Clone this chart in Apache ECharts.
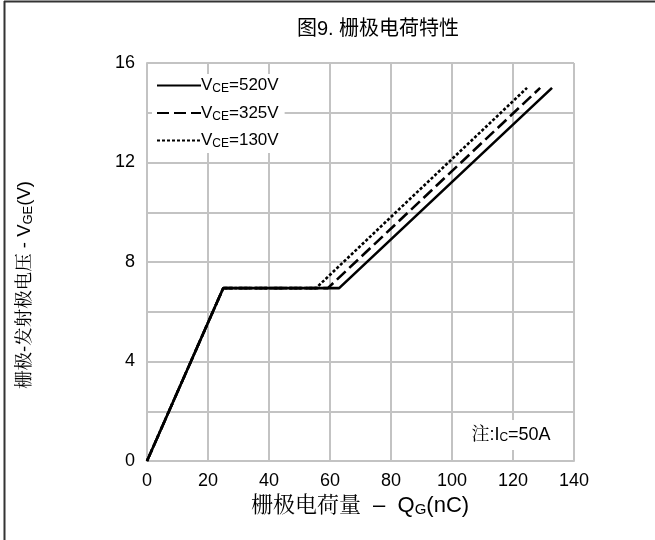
<!DOCTYPE html>
<html>
<head>
<meta charset="utf-8">
<script src="https://cdn.jsdelivr.net/npm/echarts@6/dist/echarts.min.js"></script>
<style>html,body{margin:0;padding:0;background:#fff;}#c{width:655px;height:540px;}</style>
</head>
<body>
<div id="c"></div>
<script>
// Data
const seriesNames = ['520V', '325V', '130V'];
const qg520 = [0, 25, 63, 132.8];
const vge520 = [0, 6.95, 6.95, 15];
const qg325 = [0, 25, 59.3, 128.9];
const vge325 = [0, 6.95, 6.95, 15];
const qg130 = [0, 25, 55.4, 124.6];
const vge130 = [0, 6.95, 6.95, 15];
const xTicks = [0, 20, 40, 60, 80, 100, 120, 140];
const yTicks = [0, 4, 8, 12, 16];

const pairs = (xs, ys) => xs.map((x, i) => [x, ys[i]]);
const font = '"Liberation Sans", Arial, "Noto Sans CJK SC", sans-serif';
const serif = '"Liberation Sans", Arial, "Noto Serif CJK SC", "Noto Sans CJK SC", sans-serif';
const sans = '"Liberation Sans", Arial, "Noto Sans CJK SC", sans-serif';

const chart = echarts.init(document.getElementById('c'));
const mk = (name, xs, ys, type) => ({
  name: name,
  type: 'line',
  data: pairs(xs, ys),
  symbol: 'none',
  lineStyle: { color: '#000', width: 2.6, type: type },
  itemStyle: { color: '#000' },
  z: 3
});
chart.setOption({
  backgroundColor: '#fff',
  animation: false,
  title: {
    text: '图9. 栅极电荷特性',
    left: 373, top: 14, textAlign: 'center',
    textStyle: { fontFamily: sans, fontSize: 20, fontWeight: 'normal', color: '#000' }
  },
  grid: { left: 147, right: 81, top: 63, bottom: 79 },
  legend: {
    orient: 'vertical',
    left: 152, top: 74,
    itemWidth: 44, itemHeight: 14, itemGap: 9.5,
    backgroundColor: '#fff',
    padding: [3, 6, 3, 4],
    data: seriesNames,
    itemStyle: { opacity: 0 },
    formatter: n => '{v|V}{s|CE}{v|=' + n + '}',
    textStyle: {
      color: '#000', padding: [0, 0, 0, -5],
      rich: {
        v: { fontFamily: font, fontSize: 17, color: '#000' },
        s: { fontFamily: font, fontSize: 12, color: '#000', verticalAlign: 'bottom', padding: [7, 0, 0, 0] }
      }
    }
  },
  xAxis: {
    type: 'value', min: 0, max: 140, interval: 20,
    axisLine: { show: true, lineStyle: { color: '#c3c3c3', width: 2 } },
    axisTick: { show: false },
    splitLine: { show: true, lineStyle: { color: '#c3c3c3', width: 2 } },
    axisLabel: { color: '#000', fontFamily: font, fontSize: 18, margin: 11 }
  },
  yAxis: {
    type: 'value', min: 0, max: 16, interval: 2,
    axisLine: { show: true, lineStyle: { color: '#c3c3c3', width: 2 } },
    axisTick: { show: false },
    splitLine: { show: true, lineStyle: { color: '#c3c3c3', width: 2 } },
    axisLabel: {
      color: '#000', fontFamily: font, fontSize: 18, margin: 12,
      formatter: v => (yTicks.indexOf(v) >= 0 ? String(v) : '')
    }
  },
  series: [
    mk('520V', qg520, vge520, 'solid'),
    mk('325V', qg325, vge325, [12, 5]),
    mk('130V', qg130, vge130, [3, 2])
  ],
  graphic: [
    { type: 'line', shape: { x1: 4.5, y1: 1, x2: 4.5, y2: 540 }, style: { stroke: '#333', lineWidth: 2 } },
    { type: 'line', shape: { x1: 4, y1: 1.5, x2: 655, y2: 1.5 }, style: { stroke: '#333', lineWidth: 2 } },
    {
      type: 'text', x: 360, y: 506, z: 10,
      style: {
        text: '{c|栅极电荷量  –  Q}{s|G}{c|(nC)}',
        align: 'center', verticalAlign: 'middle',
        rich: {
          c: { fontFamily: serif, fontSize: 22, fill: '#000' },
          s: { fontFamily: font, fontSize: 15, fill: '#000', verticalAlign: 'bottom', padding: [8, 0, 0, 0] }
        }
      }
    },
    {
      type: 'text', x: 25, y: 285, rotation: Math.PI / 2, z: 10,
      style: {
        text: '{c|栅极-发射极电压 - V}{s|GE}{c|(V)}',
        align: 'center', verticalAlign: 'middle',
        rich: {
          c: { fontFamily: serif, fontSize: 18.5, fill: '#000' },
          s: { fontFamily: font, fontSize: 13, fill: '#000', verticalAlign: 'bottom', padding: [7, 0, 0, 0] }
        }
      }
    },
    {
      type: 'text', x: 511, y: 435, z: 10,
      style: {
        text: '{c|注:I}{s|C}{c|=50A}',
        align: 'center', verticalAlign: 'middle',
        backgroundColor: '#fff',
        padding: [6, 5, 6, 5],
        rich: {
          c: { fontFamily: serif, fontSize: 18, fill: '#000' },
          s: { fontFamily: font, fontSize: 12, fill: '#000', verticalAlign: 'bottom', padding: [6, 0, 0, 0] }
        }
      }
    }
  ]
});
</script>
</body>
</html>
